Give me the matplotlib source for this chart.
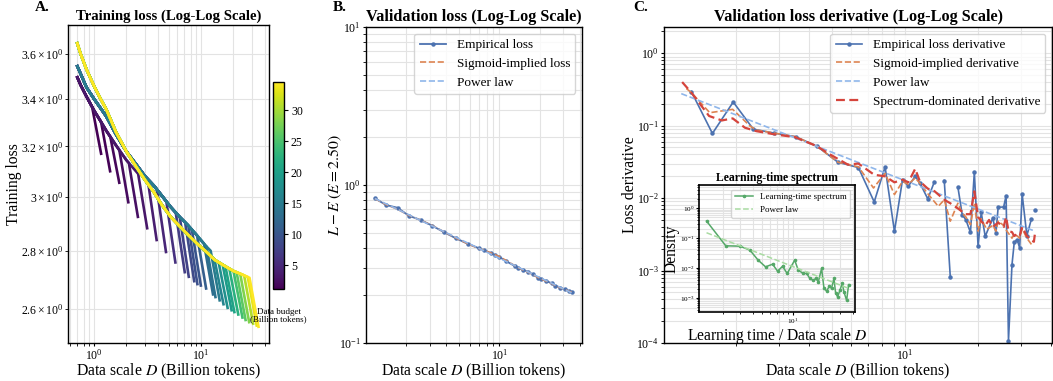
import numpy as np
import matplotlib
matplotlib.use('Agg')
import matplotlib.pyplot as plt
from matplotlib import colors

plt.rcParams['font.family'] = ['Liberation Serif', 'DejaVu Serif']
plt.rcParams['mathtext.fontset'] = 'stix'
plt.rcParams['axes.linewidth'] = 1.0

# --- panel A: training runs (one per data budget, billion tokens) ---
budgets = np.array([1.17, 1.42, 1.73, 2.10, 2.58, 3.15, 3.86, 4.72, 5.78, 7.07,
                    7.71, 8.66, 9.28, 10.0, 11.2, 13.0, 13.7, 15.0, 16.3, 17.8,
                    19.4, 20.6, 22.4, 24.5, 26.2, 28.3, 30.8, 33.3, 34.6])
train_final = np.array([3.165, 3.095, 3.050, 2.975, 2.920, 2.878, 2.835, 2.792, 2.755, 2.721,
                        2.705, 2.690, 2.680, 2.675, 2.665, 2.645, 2.636, 2.625, 2.612, 2.600,
                        2.592, 2.586, 2.578, 2.568, 2.560, 2.553, 2.548, 2.542, 2.538])

# stable-phase loss before the cooldown, for short / medium / long runs
knots_D = np.array([0.69, 0.75, 0.85, 1.0, 1.15, 1.3, 1.6, 2.0, 2.5, 3.0, 3.6,
                    4.3, 5.2, 6.3, 7.5, 9.0, 11, 13.5, 16.5, 20, 24, 28.8])
stable_short = np.array([3.50, 3.46, 3.41, 3.35, 3.305, 3.265, 3.205, 3.145, 3.097, 3.057, 3.02,
                         2.98, 2.94, 2.90, 2.87, 2.84, 2.81, 2.775, 2.75, 2.73, 2.72, 2.71])
stable_mid = np.array([3.55, 3.51, 3.45, 3.40, 3.36, 3.325, 3.25, 3.18, 3.125, 3.08, 3.045,
                       3.005, 2.962, 2.925, 2.895, 2.86, 2.82, 2.785, 2.76, 2.74, 2.725, 2.71])
stable_long = np.array([3.656, 3.60, 3.53, 3.456, 3.40, 3.355, 3.26, 3.18, 3.115, 3.065, 3.02,
                        2.97, 2.925, 2.89, 2.86, 2.83, 2.80, 2.768, 2.748, 2.73, 2.718, 2.705])
decay_start = 0.82  # cooldown begins at this fraction of the budget

# --- panel B: validation loss ---
val_D = budgets
val_emp = np.array([0.824, 0.747, 0.718, 0.639, 0.600, 0.552, 0.502, 0.460, 0.425, 0.397,
                    0.386, 0.370, 0.361, 0.350, 0.330, 0.307, 0.300, 0.290, 0.283, 0.272,
                    0.259, 0.253, 0.247, 0.239, 0.231, 0.224, 0.219, 0.213, 0.211])
val_sig = np.array([0.820, 0.752, 0.702, 0.643, 0.598, 0.553, 0.505, 0.462, 0.425, 0.395,
                    0.386, 0.371, 0.362, 0.352, 0.333, 0.309, 0.301, 0.290, 0.281, 0.271,
                    0.260, 0.254, 0.246, 0.238, 0.231, 0.224, 0.218, 0.212, 0.210])
E_irreducible = 2.50

# --- panel C: loss derivative ---
der_D = np.array([1.31, 1.60, 1.95, 2.36, 2.88, 3.53, 4.32, 5.28, 6.41, 7.45, 8.26, 9.03,
                  9.75, 10.3, 11.0, 11.5, 12.4, 13.2, 13.8, 14.5, 15.35, 15.9, 16.5, 17.2,
                  17.8, 18.6, 19.3, 20.0, 20.6, 21.4, 23.0, 23.7, 24.2, 25.5, 26.1, 26.7,
                  27.6, 28.2, 29.0, 29.7, 30.4, 31.8, 33.2, 33.8, 34.4])
# nan where the measured derivative is not positive
der_emp = np.array([0.295, 0.0781, 0.212, 0.0896, 0.079, 0.0703, 0.0521, 0.0313, 0.0264, 0.00886,
                    0.0270, 0.00347, 0.0180, 0.0146, 0.0200, 0.0162, 0.00975, 0.0168, np.nan, 0.0175,
                    0.000827, np.nan, 0.0143, 0.00591, 0.00504, 0.00336, 0.0228, 0.00215, 0.00636,
                    0.00296, 0.00532, 0.00330, 0.00746, 0.00755, 0.0108, 0.000108, 0.00120, 0.00244,
                    0.00267, 0.00205, 0.0114, 0.00303, 0.00515, np.nan, 0.00678])
sig_D = np.array([1.25, 1.31, 1.56, 1.94, 2.29, 2.43, 3.53, 4.32, 5.28, 6.41, 7.40, 8.26,
                  9.03, 9.75, 10.3, 11.0, 11.5, 12.4, 13.7, 14.5, 15.35, 16.5, 17.2, 17.8,
                  18.6, 19.3, 20.0, 20.6, 21.7, 23.0, 23.7, 24.2, 25.5, 26.3, 27.6, 28.2,
                  29.0, 29.7, 30.4, 31.8, 33.7])
sig_der = np.array([0.325, 0.286, 0.151, 0.168, 0.0986, 0.087, 0.0703, 0.0521, 0.0313, 0.027, 0.0138, 0.022,
                    0.0112, 0.017, 0.0155, 0.019, 0.016, 0.0115, 0.0077, 0.0095, 0.0048, 0.0085, 0.0062, 0.0055,
                    0.0043, 0.0085, 0.0035, 0.0052, 0.0037, 0.0042, 0.0035, 0.0048, 0.0042, 0.0035, 0.0028, 0.0032,
                    0.0030, 0.0028, 0.0038, 0.0028, 0.00215])
spec_D = np.array([1.20, 1.31, 1.55, 1.75, 1.94, 2.18, 2.43, 2.90, 3.51, 4.32, 4.9, 5.32, 5.8,
                   6.41, 7.45, 8.26, 9.03, 9.75, 10.3, 11.0, 11.5, 12.4, 12.5, 13.2, 14.5, 15.35,
                   16.5, 17.2, 17.8, 18.6, 19.3, 20.0, 20.6, 21.4, 22.2, 23.0, 24.2, 25.5, 26.1,
                   26.7, 27.6, 28.2, 29.0, 29.7, 30.4, 31.8, 33.2, 34.0, 34.4])
spec_der = np.array([0.40, 0.286, 0.136, 0.118, 0.126, 0.0937, 0.084, 0.0757, 0.0694, 0.0521, 0.040, 0.0342, 0.029,
                     0.030, 0.021, 0.020, 0.0165, 0.018, 0.0165, 0.0254, 0.017, 0.0135, 0.0134, 0.0125, 0.0095, 0.0085,
                     0.0072, 0.0065, 0.0060, 0.0060, 0.0124, 0.0055, 0.0048, 0.0042, 0.0050, 0.0040, 0.0046, 0.0040, 0.0055,
                     0.0035, 0.0034, 0.0030, 0.0032, 0.0030, 0.0040, 0.0030, 0.0026, 0.0025, 0.0034])
pl_der_amp, pl_der_exp = 0.347, -1.30
pl_der_range = [1.19, 34.4]

# --- inset: learning-time spectrum ---
spec_t = np.array([1.38, 2.15, 2.97, 3.74, 4.53, 5.37, 6.31, 7.08, 7.94, 8.83, 10.5, 11.4,
                   12.8, 13.8, 14.9, 16.1, 17.1, 18.1, 19.5, 20.6, 21.9, 23.3, 24.5, 25.9,
                   26.9, 28.2, 29.7, 31.4, 32.6, 34.7, 36.3])
spec_density = np.array([0.375, 0.0556, 0.0541, 0.040, 0.0184, 0.011, 0.0135, 0.0079, 0.0115, 0.0066,
                         0.0184, 0.0085, 0.0066, 0.0066, 0.0045, 0.0039, 0.0045, 0.0035, 0.0097, 0.0021,
                         0.0017, 0.0025, 0.0021, 0.0045, 0.0015, 0.00108, 0.0018, 0.0031, 0.0016, 0.00083,
                         0.0028])
pl_spec_amp, pl_spec_exp = 0.232, -1.31
pl_spec_range = [1.38, 36.3]

c_emp = '#4c72b0'
c_sig = '#dd8452'
c_pl = '#8fb6ea'
c_spec = '#d5443c'
c_green = '#55a868'
c_green_pl = '#a9dba2'
grid_kw = dict(color='#e3e3e3', linewidth=0.8)
label_fs = 11.3
title_fs = 11.7
tick_fs = 8.5


def style(ax):
    ax.set_xscale('log')
    ax.set_yscale('log')
    ax.grid(True, which='both', **grid_kw)
    ax.set_axisbelow(True)
    ax.tick_params(which='both', labelsize=tick_fs, pad=1.2)
    ax.tick_params(which='major', length=2.5)
    ax.tick_params(which='minor', length=2)


fig = plt.figure(figsize=(10.53, 3.81), dpi=100)

# A. training loss
axA = fig.add_axes([0.0646, 0.0997, 0.1909, 0.8346])
style(axA)
norm = colors.Normalize(vmin=budgets.min(), vmax=budgets.max())
cmap = plt.get_cmap('viridis')
for b, fin in zip(budgets, train_final):
    if b < 3.5:
        stable = stable_short
    elif b < 16:
        stable = stable_mid
    else:
        stable = stable_long
    d0 = decay_start * b
    keep = knots_D < d0
    l0 = np.exp(np.interp(np.log(d0), np.log(knots_D), np.log(stable)))
    xs = np.r_[knots_D[keep], d0, b]
    ys = np.r_[stable[keep], l0, fin]
    axA.plot(xs, ys, color=cmap(norm(b)), lw=1.9, solid_capstyle='butt')
axA.set_xlim(0.571, 43.2)
axA.set_ylim(2.49, 3.736)
axA.set_title('Training loss (Log-Log Scale)', fontsize=10.6, fontweight='bold', pad=4)
axA.set_xlabel('Data scale $D$ (Billion tokens)', fontsize=label_fs, labelpad=-1)
axA.set_ylabel('Training loss', fontsize=label_fs, labelpad=-0.5)

cax = fig.add_axes([0.2593, 0.2415, 0.01045, 0.5433])
sm = plt.cm.ScalarMappable(norm=norm, cmap=cmap)
cb = fig.colorbar(sm, cax=cax)
cb.ax.tick_params(labelsize=8.5, length=3, pad=2)
cb.ax.text(0.5, -0.09, 'Data budget\n(Billion tokens)', transform=cb.ax.transAxes,
           ha='center', va='top', fontsize=6.5, linespacing=1.0)

# B. validation loss
axB = fig.add_axes([0.3476, 0.0997, 0.2051, 0.8294])
style(axB)
axB.plot(val_D, val_emp, color=c_emp, marker='o', ms=2.2, lw=1.3, label='Empirical loss')
axB.plot(val_D, val_sig, color=c_sig, ls='--', lw=1.2, label='Sigmoid-implied loss')
slope, icpt = np.polyfit(np.log(val_D), np.log(val_emp), 1)
pl_x = val_D[[0, -1]]
axB.plot(pl_x, np.exp(icpt) * pl_x ** slope, color=c_pl, ls='--', lw=1.2, label='Power law')
axB.set_xlim(1.005, 41.4)
axB.set_ylim(0.1, 10)
axB.set_title('Validation loss (Log-Log Scale)', fontsize=title_fs, fontweight='bold', pad=4)
axB.set_xlabel('Data scale $D$ (Billion tokens)', fontsize=label_fs, labelpad=-1)
axB.set_ylabel(r'$L - E\ (E = %.2f)$' % E_irreducible, fontsize=label_fs, labelpad=-4)
axB.legend(loc='upper right', fontsize=9.5, edgecolor='#cccccc', fancybox=True)

# C. loss derivative
axC = fig.add_axes([0.6306, 0.0997, 0.3685, 0.8294])
style(axC)
axC.plot(der_D, der_emp, color=c_emp, marker='o', ms=2.2, lw=1.2, label='Empirical loss derivative')
axC.plot(sig_D, sig_der, color=c_sig, ls='--', lw=1.2, label='Sigmoid-implied derivative')
pl_c = np.array(pl_der_range)
axC.plot(pl_c, pl_der_amp * pl_c ** pl_der_exp, color=c_pl, ls='--', lw=1.2, label='Power law')
axC.plot(spec_D, spec_der, color=c_spec, ls='--', lw=1.6, dashes=(4, 2),
         label='Spectrum-dominated derivative')
axC.set_xlim(1.01, 40.4)
axC.set_ylim(1e-4, 2.3)
axC.set_title('Validation loss derivative (Log-Log Scale)', fontsize=title_fs, fontweight='bold', pad=4)
axC.set_xlabel('Data scale $D$ (Billion tokens)', fontsize=label_fs, labelpad=-1)
axC.set_ylabel('Loss derivative', fontsize=label_fs, labelpad=-1.5)
axC.legend(loc='upper right', fontsize=9.5, edgecolor='#cccccc', fancybox=True)

# inset: learning-time spectrum
axI = fig.add_axes([0.6638, 0.1811, 0.1481, 0.3333])
style(axI)
axI.set_facecolor('white')
axI.plot(spec_t, spec_density, color=c_green, marker='o', ms=1.6, lw=1.1, label='Learning-time spectrum')
pl_i = np.array(pl_spec_range)
axI.plot(pl_i, pl_spec_amp * pl_i ** pl_spec_exp, color=c_green_pl, ls='--', lw=1.1, label='Power law')
axI.set_xlim(1.16, 42)
axI.set_ylim(3.4e-4, 6.0)
axI.tick_params(which='both', labelsize=5.2, pad=1.2)
axI.tick_params(which='major', length=2)
axI.tick_params(which='minor', length=1.2)
axI.set_title('Learning-time spectrum', fontsize=8.5, fontweight='bold', pad=3)
axI.set_xlabel('Learning time / Data scale $D$', fontsize=11.2, labelpad=0)
axI.set_ylabel('Density', fontsize=11.2, labelpad=0.5)
axI.legend(loc='upper right', fontsize=6.5, edgecolor='#cccccc', fancybox=True)
for s in axI.spines.values():
    s.set_linewidth(1.2)

fig.text(0.033, 0.980, 'A.', fontsize=11, fontweight='bold', va='center')
fig.text(0.316, 0.980, 'B.', fontsize=11, fontweight='bold', va='center')
fig.text(0.601, 0.980, 'C.', fontsize=11, fontweight='bold', va='center')

fig.savefig('out.png', dpi=100)
